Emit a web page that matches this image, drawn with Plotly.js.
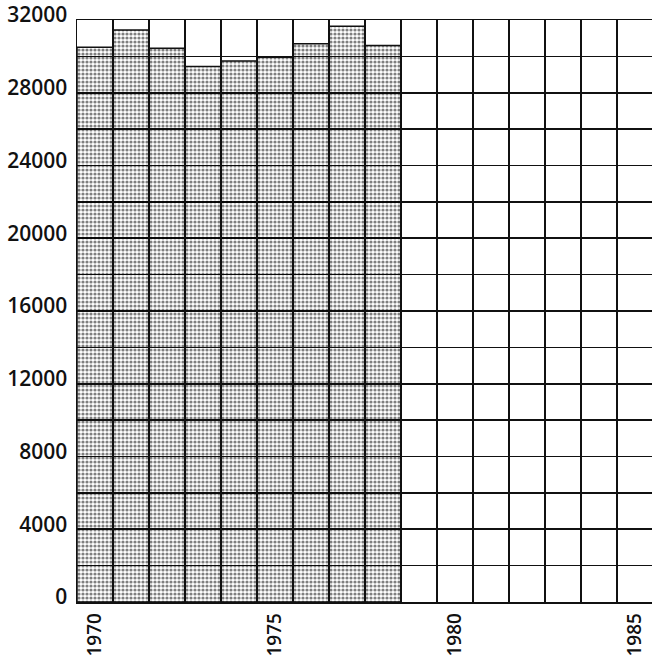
<!DOCTYPE html>
<html>
<head>
<meta charset="utf-8">
<script src="https://cdn.plot.ly/plotly-3.0.1.min.js"></script>
<style>
html,body{margin:0;padding:0;background:#fff;}
#chart{width:652px;height:657px;}
</style>
</head>
<body>
<div id="chart"></div>
<script>
// Data
const years = [1970, 1971, 1972, 1973, 1974, 1975, 1976, 1977, 1978];
const values = [30500, 31450, 30450, 29450, 29750, 29950, 30700, 31650, 30600];
const xTickVals = [1970, 1975, 1980, 1985];
const xTickText = ['1970', '1975', '1980', '1985'];
const yTickVals = [0, 4000, 8000, 12000, 16000, 20000, 24000, 28000, 32000];
const yTickText = ['0', '4000', '8000', '12000', '16000', '20000', '24000', '28000', '32000'];

const yFont = {family: 'Open Sans', size: 21, color: '#111', weight: 600};
const xFont = {family: 'Open Sans', size: 19, color: '#111', weight: 600};

const trace = {
  type: 'bar',
  x: years,
  y: values,
  width: 1,
  marker: {
    color: 'rgba(0,0,0,0)',
    pattern: {shape: '.', fgcolor: '#000', bgcolor: 'rgba(0,0,0,0)', size: 4, solidity: 0.5, fillmode: 'overlay'},
    line: {color: '#111', width: 1.5}
  },
  hoverinfo: 'skip'
};

const layout = {
  width: 652,
  height: 657,
  margin: {l: 77, r: 0, t: 20, b: 55},
  paper_bgcolor: '#fff',
  plot_bgcolor: '#fff',
  showlegend: false,
  bargap: 0,
  font: yFont,
  xaxis: {
    range: [1969.5, 1985.47],
    tickvals: xTickVals,
    ticktext: xTickText,
    tickangle: -90,
    ticks: '',
    ticklabelstandoff: 2,
    showgrid: false,
    zeroline: false,
    showline: true,
    mirror: true,
    linecolor: '#111',
    linewidth: 1.5,
    tickfont: xFont,
    minor: {tick0: 1969.5, dtick: 1, showgrid: true, gridcolor: '#111', gridwidth: 1.6, ticks: ''}
  },
  yaxis: {
    range: [0, 32000],
    tickvals: yTickVals,
    ticktext: yTickText,
    ticks: '',
    ticklabelshift: -5,
    ticklabelstandoff: 4,
    ticklabeloverflow: 'allow',
    showgrid: true,
    gridcolor: '#111',
    gridwidth: 1.6,
    zeroline: false,
    showline: true,
    mirror: true,
    linecolor: '#111',
    linewidth: 1.5,
    tickfont: yFont,
    minor: {tick0: 0, dtick: 2000, showgrid: true, gridcolor: '#111', gridwidth: 1.6, ticks: ''}
  }
};

Plotly.newPlot('chart', [trace], layout, {displayModeBar: false, staticPlot: true});
</script>
</body>
</html>
